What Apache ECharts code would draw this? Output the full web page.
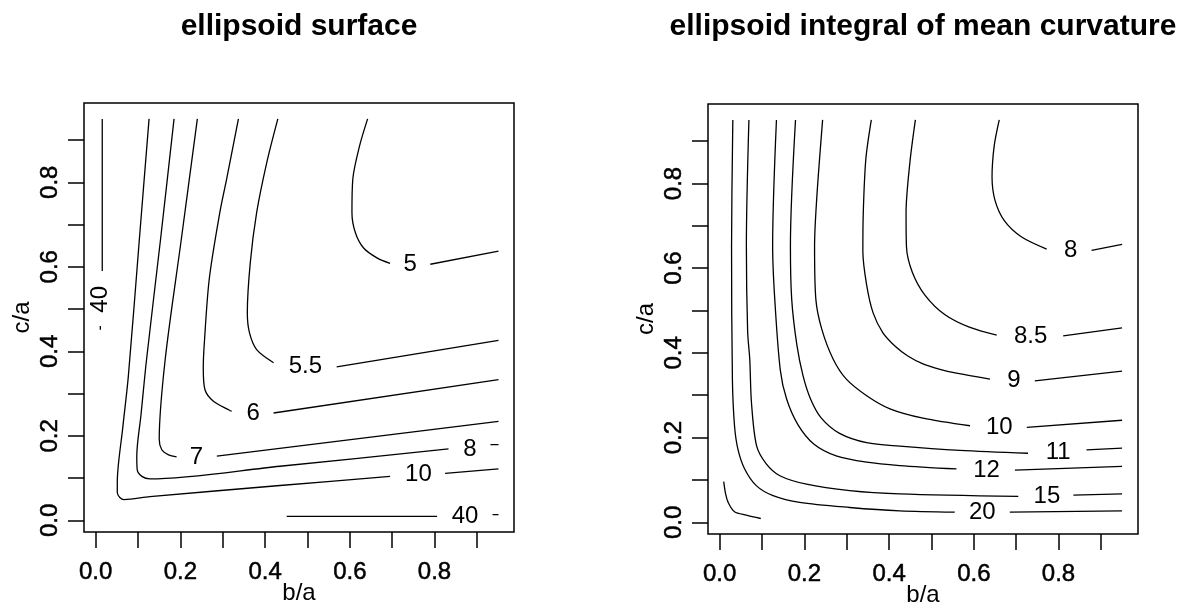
<!DOCTYPE html>
<html>
<head>
<meta charset="utf-8">
<script src="https://cdn.jsdelivr.net/npm/echarts@6/dist/echarts.min.js"></script>
<style>
  html, body { margin: 0; padding: 0; background: #fff; }
  #chart { width: 1190px; height: 611px; }
</style>
</head>
<body>
<div id="chart"></div>
<script>
// Shared axis range: ratios run 0.01..0.95, padded by 4% on both sides
const axisMin = -0.0276;
const axisMax = 0.9876;
const tickValues = [0, 0.1, 0.2, 0.3, 0.4, 0.5, 0.6, 0.7, 0.8, 0.9];
const tickLabels = [0, 0.2, 0.4, 0.6, 0.8];

// ---- ellipsoid surface: contour polylines (b/a, c/a), split where the level label sits
const surfLevels = [5, 5.5, 6, 7, 8, 10, 40, 40];
const surf5 = [
  [[0.642,0.95],[0.623,0.886],[0.607,0.807],[0.605,0.728],[0.613,0.681],[0.632,0.645],[0.664,0.621],[0.695,0.608]],
  [[0.790,0.606],[0.951,0.637]]
];
const surf55 = [
  [[0.430,0.95],[0.404,0.847],[0.380,0.728],[0.365,0.61],[0.358,0.491],[0.363,0.444],[0.380,0.404],[0.420,0.373]],
  [[0.569,0.363],[0.951,0.426]]
];
const surf6 = [
  [[0.337,0.95],[0.309,0.807],[0.293,0.728],[0.268,0.57],[0.256,0.412],[0.254,0.36],[0.258,0.309],[0.278,0.282],[0.321,0.258]],
  [[0.420,0.254],[0.951,0.333]]
];
const surf7 = [
  [[0.240,0.95],[0.202,0.664],[0.164,0.38],[0.150,0.191],[0.156,0.167],[0.172,0.155],[0.191,0.150]],
  [[0.286,0.152],[0.951,0.234]]
];
const surf8 = [
  [[0.185,0.95],[0.153,0.664],[0.120,0.38],[0.107,0.25],[0.097,0.152],[0.098,0.120],[0.109,0.104],[0.128,0.098],[0.435,0.128],[0.833,0.169]],
  [[0.932,0.179],[0.951,0.179]]
];
const surf10 = [
  [[0.126,0.95],[0.103,0.664],[0.077,0.34],[0.064,0.22],[0.051,0.09],[0.051,0.066],[0.057,0.054],[0.067,0.049],[0.128,0.056],[0.435,0.0824],[0.695,0.104]],
  [[0.825,0.111],[0.951,0.122]]
];
const surf40side = [
  [[0.0155,0.95],[0.0155,0.59]],
  [[0.011,0.46],[0.011,0.451]]
];
const surf40base = [
  [[0.451,0.0095],[0.806,0.0095]],
  [[0.937,0.0135],[0.951,0.0135]]
];
const surfLabelAt = [[0.7425,0.605],[0.495,0.364],[0.372,0.254],[0.238,0.149],[0.8835,0.168],[0.762,0.108],[0.010,0.523],[0.872,0.010]];

// ---- ellipsoid integral of mean curvature
const curvLevels = [8, 8.5, 9, 10, 11, 12, 15, 20];
const curv8 = [
  [[0.660,0.95],[0.648,0.888],[0.643,0.815],[0.650,0.760],[0.672,0.712],[0.712,0.674],[0.772,0.645]],
  [[0.878,0.642],[0.950,0.656]]
];
const curv85 = [
  [[0.462,0.95],[0.449,0.849],[0.440,0.731],[0.441,0.650],[0.455,0.590],[0.485,0.536],[0.532,0.490],[0.591,0.460],[0.654,0.442]],
  [[0.811,0.44],[0.950,0.459]]
];
const curv9 = [
  [[0.358,0.95],[0.345,0.857],[0.339,0.731],[0.338,0.640],[0.347,0.560],[0.362,0.495],[0.385,0.448],[0.415,0.415],[0.445,0.392],[0.480,0.374],[0.520,0.361],[0.559,0.352],[0.638,0.338]],
  [[0.744,0.334],[0.950,0.357]]
];
const curv10 = [
  [[0.243,0.95],[0.229,0.763],[0.224,0.652],[0.227,0.527],[0.241,0.456],[0.268,0.385],[0.299,0.338],[0.347,0.299],[0.402,0.268],[0.480,0.246],[0.591,0.228]],
  [[0.725,0.224],[0.950,0.241]]
];
const curv11 = [
  [[0.179,0.95],[0.167,0.652],[0.170,0.527],[0.182,0.420],[0.197,0.345],[0.215,0.290],[0.240,0.246],[0.283,0.210],[0.347,0.188],[0.425,0.180],[0.567,0.170],[0.728,0.163]],
  [[0.866,0.171],[0.950,0.175]]
];
const curv12 = [
  [[0.134,0.95],[0.125,0.652],[0.130,0.527],[0.143,0.360],[0.158,0.291],[0.185,0.230],[0.222,0.185],[0.275,0.157],[0.347,0.142],[0.425,0.134],[0.559,0.126]],
  [[0.697,0.123],[0.950,0.132]]
];
const curv15 = [
  [[0.069,0.95],[0.063,0.652],[0.066,0.45],[0.071,0.385],[0.075,0.283],[0.087,0.181],[0.110,0.138],[0.142,0.110],[0.205,0.090],[0.307,0.075],[0.425,0.067],[0.705,0.061]],
  [[0.835,0.064],[0.950,0.067]]
];
const curv20 = [
  [[0.031,0.95],[0.028,0.652],[0.030,0.338],[0.035,0.228],[0.043,0.173],[0.059,0.126],[0.087,0.086],[0.126,0.063],[0.189,0.047],[0.307,0.035],[0.425,0.027],[0.555,0.024]],
  [[0.685,0.024],[0.950,0.027]]
];
const curvInner = [
  [[0.0095,0.096],[0.014,0.067],[0.020,0.047],[0.035,0.025],[0.063,0.017],[0.097,0.009]]
];
const curvLabelAt = [[0.8285,0.641],[0.734,0.438],[0.6945,0.334],[0.660,0.224],[0.799,0.165],[0.630,0.122],[0.7725,0.061],[0.620,0.024]];

const FONT = '"Liberation Sans", Arial, Helvetica, sans-serif';

function lineSeries(pieces, gi) {
  return pieces.map(p => ({
    type: 'line', xAxisIndex: gi, yAxisIndex: gi, data: p,
    symbol: 'none', smooth: 0.3, silent: true, z: 3,
    lineStyle: { color: '#000', width: 1.3, opacity: 1 }
  }));
}

function labelSeries(levels, at, gi, rotatedIdx) {
  return {
    type: 'scatter', xAxisIndex: gi, yAxisIndex: gi, symbolSize: 0, silent: true, z: 4,
    itemStyle: { opacity: 1 },
    data: at.map((p, i) => ({
      name: String(levels[i]), value: p,
      label: { rotate: rotatedIdx.includes(i) ? 90 : 0 }
    })),
    label: {
      show: true, position: 'inside', formatter: '{b}', opacity: 1,
      fontFamily: FONT, fontSize: 24, color: '#000', textBorderWidth: 0
    }
  };
}

const tickText = { fontFamily: FONT, fontSize: 24, color: '#000', textBorderColor: '#000', textBorderWidth: 0.5 };

function xAxisFor(gi) {
  return {
    gridIndex: gi, type: 'value', min: axisMin, max: axisMax,
    name: 'b/a', nameLocation: 'middle', nameGap: 49, nameMoveOverlap: false,
    nameTextStyle: { fontFamily: FONT, fontSize: 24, color: '#000' },
    axisLine: { show: false, onZero: false },
    axisTick: { show: true, inside: false, length: 16, customValues: tickValues, lineStyle: { color: '#000', width: 1.5 } },
    axisLabel: Object.assign({ customValues: tickLabels, margin: 28, formatter: v => v.toFixed(1) }, tickText),
    splitLine: { show: false }
  };
}

function yAxisFor(gi) {
  return {
    gridIndex: gi, type: 'value', min: axisMin, max: axisMax,
    name: 'c/a', nameLocation: 'middle', nameGap: 50, nameRotate: 90, nameMoveOverlap: false,
    nameTextStyle: { fontFamily: FONT, fontSize: 24, color: '#000' },
    axisLine: { show: false, onZero: false },
    axisTick: { show: true, inside: false, length: 16, customValues: tickValues, lineStyle: { color: '#000', width: 1.5 } },
    axisLabel: Object.assign({ customValues: tickLabels, margin: 22, rotate: 90, formatter: v => v.toFixed(1) }, tickText),
    splitLine: { show: false }
  };
}

const series = [].concat(
  lineSeries(surf5, 0), lineSeries(surf55, 0), lineSeries(surf6, 0), lineSeries(surf7, 0),
  lineSeries(surf8, 0), lineSeries(surf10, 0), lineSeries(surf40side, 0), lineSeries(surf40base, 0),
  [labelSeries(surfLevels, surfLabelAt, 0, [6])],
  lineSeries(curv8, 1), lineSeries(curv85, 1), lineSeries(curv9, 1), lineSeries(curv10, 1),
  lineSeries(curv11, 1), lineSeries(curv12, 1), lineSeries(curv15, 1), lineSeries(curv20, 1),
  lineSeries(curvInner, 1),
  [labelSeries(curvLevels, curvLabelAt, 1, [])]
);

const chart = echarts.init(document.getElementById('chart'), null, { renderer: 'canvas' });
chart.setOption({
  animation: false,
  backgroundColor: '#fff',
  grid: [
    { left: 84, top: 103, width: 430, height: 429, outerBoundsMode: 'none', containLabel: false, show: true, borderColor: '#000', borderWidth: 1.5, backgroundColor: 'transparent' },
    { left: 708, top: 104, width: 430, height: 430, outerBoundsMode: 'none', containLabel: false, show: true, borderColor: '#000', borderWidth: 1.5, backgroundColor: 'transparent' }
  ],
  xAxis: [xAxisFor(0), xAxisFor(1)],
  yAxis: [yAxisFor(0), yAxisFor(1)],
  graphic: [
    { type: 'text', x: 299, y: 27, style: { text: 'ellipsoid surface', font: 'bold 30px ' + FONT, fill: '#000', align: 'center', verticalAlign: 'middle' } },
    { type: 'text', x: 923, y: 27, style: { text: 'ellipsoid integral of mean curvature', font: 'bold 30px ' + FONT, fill: '#000', align: 'center', verticalAlign: 'middle' } }
  ],
  series: series
});
</script>
</body>
</html>
